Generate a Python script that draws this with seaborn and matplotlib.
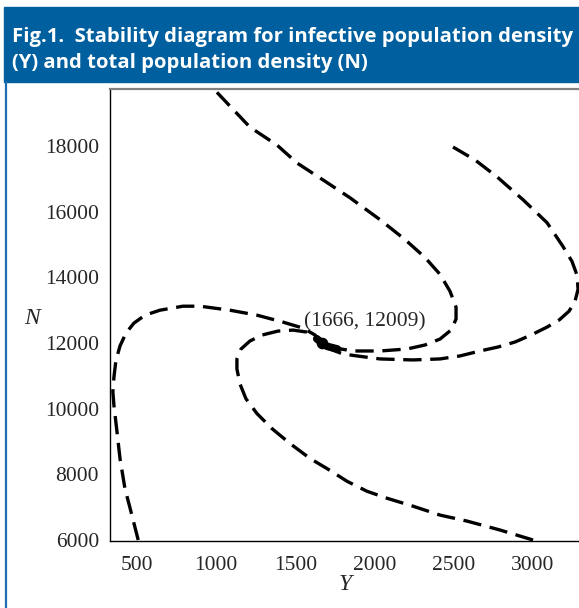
import numpy as np
import pandas as pd
import matplotlib
matplotlib.use("Agg")
import matplotlib.pyplot as plt
import seaborn as sns
from matplotlib.patches import Rectangle
from matplotlib.lines import Line2D

# Trajectories in the (Y, N) phase plane, each spiralling into the equilibrium
traj_top_Y = [1005, 1100, 1213, 1384, 1510, 1674, 1845, 2034, 2192, 2318, 2413, 2476, 2514,
              2514, 2482, 2413, 2318, 2205, 2034, 1864, 1750, 1674, 1666]
traj_top_N = [19636, 19151, 18576, 18030, 17485, 16970, 16424, 15758, 15152, 14606, 14091, 13576, 13091,
              12728, 12394, 12122, 11940, 11819, 11758, 11758, 11849, 11970, 12009]

traj_right_Y = [2495, 2634, 2773, 2937, 3088, 3189, 3246, 3278, 3284, 3265, 3227, 3164, 3088, 2987,
                2886, 2779, 2665, 2539, 2413, 2242, 2034, 1889, 1800, 1718, 1666]
traj_right_N = [17970, 17576, 17061, 16364, 15667, 14940, 14485, 14061, 13637, 13273, 12970, 12698, 12485, 12243,
                12031, 11879, 11758, 11607, 11516, 11485, 11516, 11607, 11667, 11818, 12009]

traj_left_Y = [508, 468, 424, 393, 374, 355, 348, 355, 367, 393, 431, 481, 551, 645, 790, 898,
               1087, 1258, 1422, 1548, 1624, 1666]
traj_left_N = [6000, 6759, 7576, 8486, 9304, 10092, 10516, 10970, 11455, 11910, 12304, 12607, 12849, 13000, 13122, 13122,
               13000, 12849, 12637, 12455, 12243, 12009]

traj_low_Y = [3000, 2792, 2583, 2413, 2242, 2078, 1952, 1826, 1718, 1592, 1466, 1352, 1258, 1188,
              1150, 1131, 1131, 1157, 1213, 1289, 1390, 1485, 1573, 1636, 1666]
traj_low_N = [6000, 6304, 6577, 6759, 7031, 7273, 7485, 7789, 8122, 8486, 8940, 9395, 9849, 10304,
              10758, 11213, 11516, 11819, 12061, 12243, 12364, 12394, 12334, 12182, 12009]

# Tight winding around the equilibrium point
core_Y = [1635, 1666, 1700, 1765]
core_N = [12130, 12009, 11900, 11820]

eq_Y, eq_N = 1666, 12009
eq_label = f"({eq_Y}, {eq_N})"

x_ticks = [500, 1000, 1500, 2000, 2500, 3000]
y_ticks = [6000, 8000, 10000, 12000, 14000, 16000, 18000]

title_lines = ["Fig.1.  Stability diagram for infective population density",
               "(Y) and total population density (N)"]

frames = []
for name, ys, ns in [("top", traj_top_Y, traj_top_N),
                     ("right", traj_right_Y, traj_right_N),
                     ("left", traj_left_Y, traj_left_N),
                     ("low", traj_low_Y, traj_low_N)]:
    frames.append(pd.DataFrame({"Y": ys, "N": ns, "curve": name}))
df = pd.concat(frames, ignore_index=True)

sns.set_style("white")
W, H = 579, 608
fig = plt.figure(figsize=(W / 100, H / 100), dpi=100)

# Header banner and side rule
fig.patches.append(Rectangle((4 / W, 1 - 82 / H), 1 - 4 / W, 75 / H,
                             transform=fig.transFigure, color="#005f9e", zorder=0))
fig.lines.append(Line2D([4.5 / W, 4.5 / W], [0, 1 - 82 / H], transform=fig.transFigure,
                        color="#a9c9e2", lw=0.8))
fig.lines.append(Line2D([5.8 / W, 5.8 / W], [0, 1 - 82 / H], transform=fig.transFigure,
                        color="#1f6db0", lw=1.6))
for i, line in enumerate(title_lines):
    fig.text(12 / W, 1 - (37 + 26 * i) / H, line, color="white", fontsize=14.6,
             fontweight="bold", family="Open Sans", va="center", ha="left")

ax = fig.add_axes([110 / W, (H - 541) / H, (W - 110) / W, (541 - 89) / H])
sns.lineplot(data=df, x="Y", y="N", units="curve", estimator=None, sort=False,
             color="black", lw=2.4, linestyle=(0, (5.5, 2.6)), ax=ax, legend=False)
sns.lineplot(x=core_Y, y=core_N, sort=False, estimator=None, color="black",
             lw=5.5, ax=ax, legend=False)
sns.scatterplot(x=[eq_Y], y=[eq_N], color="black", s=70, linewidth=0,
                ax=ax, legend=False, zorder=5)

ax.set_xlim(330, 3290)
ax.set_ylim(5970, 19738)
ax.set_xticks(x_ticks)
ax.set_yticks(y_ticks)
ax.set_xticks(np.arange(400, 3300, 100), minor=True)
ax.set_yticks(np.arange(6000, 19700, 1000), minor=True)

serif = "Liberation Serif"
ax.tick_params(axis="x", which="major", pad=6)
ax.tick_params(axis="y", which="major", pad=3)
ax.tick_params(axis="both", which="major", direction="out", length=5, width=1,
               labelsize=15.5, color="black")
ax.tick_params(axis="both", which="minor", direction="out", length=3, width=0.8,
               color="black")
for lab in ax.get_xticklabels() + ax.get_yticklabels():
    lab.set_family(serif)

ax.spines["right"].set_visible(False)
ax.spines["top"].set_color("#808080")
ax.spines["top"].set_linewidth(1.6)
for s in ("left", "bottom"):
    ax.spines[s].set_color("black")
    ax.spines[s].set_linewidth(1.0)

ax.set_xlabel("Y", family=serif, style="italic", fontsize=17, va="center")
ax.set_ylabel("N", family=serif, style="italic", fontsize=17, rotation=0, va="center")
ax.xaxis.set_label_coords(0.501, -0.097)
ax.yaxis.set_label_coords(-0.166, 0.493)

ax.text(1554, 12516, eq_label, family=serif, fontsize=15.5, ha="left", va="baseline")

fig.savefig("out.png", dpi=100)
